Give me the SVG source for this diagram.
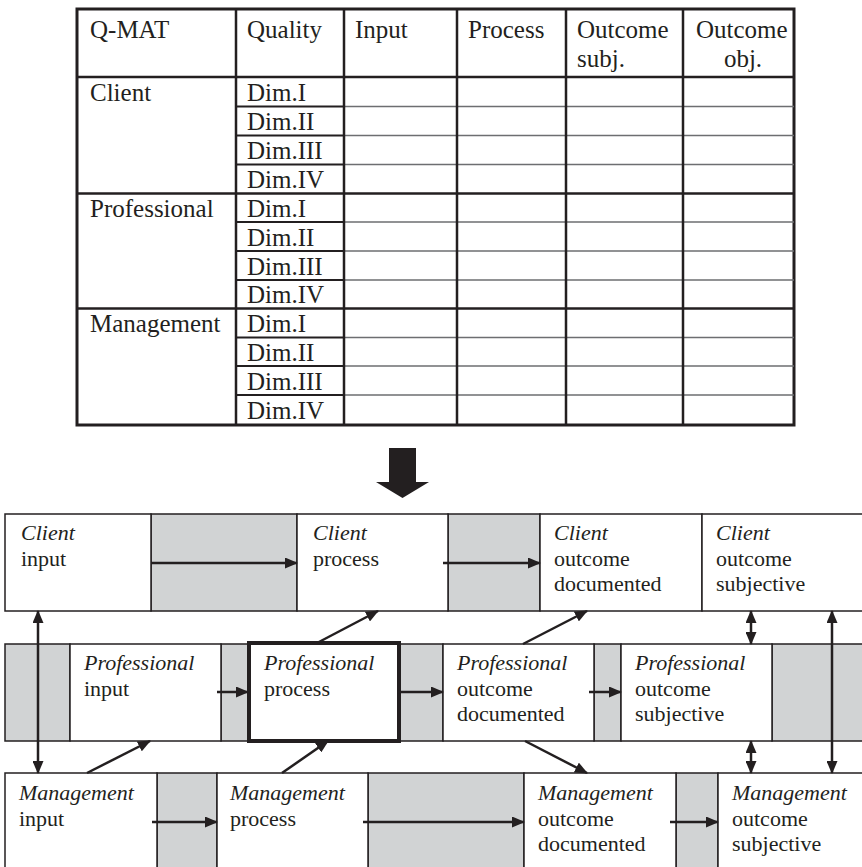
<svg xmlns="http://www.w3.org/2000/svg" width="862" height="867" viewBox="0 0 862 867">
  <style>
    .txt { font-family: "Liberation Serif", "Times New Roman", serif; fill: #231f20; }
    .tbl { font-size: 25px; }
    .lbl { font-size: 22px; }
    .it { font-style: italic; }
    .frame { fill: none; stroke: #231f20; stroke-width: 3; }
    .col { stroke: #231f20; stroke-width: 2.5; }
    .sec { stroke: #231f20; stroke-width: 2.5; }
    .dimln { stroke: #231f20; stroke-width: 2.2; }
    .row { stroke: #6d6e71; stroke-width: 1.5; }
    .box { fill: #ffffff; stroke: #231f20; stroke-width: 1.5; }
    .gap { fill: #d1d3d4; stroke: #231f20; stroke-width: 1.5; }
    .focus { fill: #ffffff; stroke: #231f20; stroke-width: 4; }
    .conn { stroke: #231f20; stroke-width: 2.5; fill: none; }
  </style>
  <defs>
    <marker id="head" markerUnits="userSpaceOnUse" markerWidth="13" markerHeight="11" refX="12" refY="5.5" orient="auto-start-reverse">
      <path d="M0,0 L13,5.5 L0,11 z" fill="#231f20"/>
    </marker>
  </defs>

  <!-- Q-MAT matrix -->
  <g id="qmat-table">
    <rect class="frame" x="77" y="9" width="717" height="416"/>
    <!-- thin row rules in the data columns -->
    <g class="row">
      <line x1="344" y1="106.5" x2="794" y2="106.5"/>
      <line x1="344" y1="135.5" x2="794" y2="135.5"/>
      <line x1="344" y1="164.5" x2="794" y2="164.5"/>
      <line x1="344" y1="222" x2="794" y2="222"/>
      <line x1="344" y1="251" x2="794" y2="251"/>
      <line x1="344" y1="280" x2="794" y2="280"/>
      <line x1="344" y1="337.5" x2="794" y2="337.5"/>
      <line x1="344" y1="366" x2="794" y2="366"/>
      <line x1="344" y1="395" x2="794" y2="395"/>
    </g>
    <!-- dimension cells -->
    <g class="dimln">
      <line x1="236" y1="106.5" x2="344" y2="106.5"/>
      <line x1="236" y1="135.5" x2="344" y2="135.5"/>
      <line x1="236" y1="164.5" x2="344" y2="164.5"/>
      <line x1="236" y1="222" x2="344" y2="222"/>
      <line x1="236" y1="251" x2="344" y2="251"/>
      <line x1="236" y1="280" x2="344" y2="280"/>
      <line x1="236" y1="337.5" x2="344" y2="337.5"/>
      <line x1="236" y1="366" x2="344" y2="366"/>
      <line x1="236" y1="395" x2="344" y2="395"/>
    </g>
    <!-- header and section rules -->
    <g class="sec">
      <line x1="77" y1="77" x2="794" y2="77"/>
      <line x1="77" y1="193.5" x2="794" y2="193.5"/>
      <line x1="77" y1="308.5" x2="794" y2="308.5"/>
    </g>
    <!-- column rules -->
    <g class="col">
      <line x1="236" y1="9" x2="236" y2="425"/>
      <line x1="344" y1="9" x2="344" y2="425"/>
      <line x1="457" y1="9" x2="457" y2="425"/>
      <line x1="566" y1="9" x2="566" y2="425"/>
      <line x1="683" y1="9" x2="683" y2="425"/>
    </g>
    <g class="txt tbl">
      <text x="90" y="38">Q-MAT</text>
      <text x="247" y="38">Quality</text>
      <text x="355" y="38">Input</text>
      <text x="468" y="38">Process</text>
      <text x="577" y="38">Outcome</text>
      <text x="577" y="67">subj.</text>
      <text x="696" y="38">Outcome</text>
      <text x="743" y="67" text-anchor="middle">obj.</text>

      <text x="90" y="101">Client</text>
      <text x="90" y="216.5">Professional</text>
      <text x="90" y="332">Management</text>

      <text x="247" y="101">Dim.I</text>
      <text x="247" y="130">Dim.II</text>
      <text x="247" y="159">Dim.III</text>
      <text x="247" y="188">Dim.IV</text>
      <text x="247" y="216.5">Dim.I</text>
      <text x="247" y="245.5">Dim.II</text>
      <text x="247" y="274.5">Dim.III</text>
      <text x="247" y="303">Dim.IV</text>
      <text x="247" y="332">Dim.I</text>
      <text x="247" y="361">Dim.II</text>
      <text x="247" y="390">Dim.III</text>
      <text x="247" y="419">Dim.IV</text>
    </g>
  </g>

  <!-- transition arrow -->
  <g id="down-arrow">
    <polygon points="389,448 416,448 416,482 429,482 402.5,498 376,482 389,482" fill="#231f20"/>
  </g>

  <!-- client level -->
  <rect class="gap" x="151" y="514" width="146" height="97"/>
  <rect class="gap" x="448" y="514" width="92" height="97"/>
  <g id="client-input">
    <rect class="box" x="5" y="514" width="146" height="97"/>
    <text class="txt lbl" x="21" y="540"><tspan class="it">Client</tspan><tspan x="21" dy="25.5">input</tspan></text>
  </g>
  <g id="client-process">
    <rect class="box" x="297" y="514" width="151" height="97"/>
    <text class="txt lbl" x="313" y="540"><tspan class="it">Client</tspan><tspan x="313" dy="25.5">process</tspan></text>
  </g>
  <g id="client-outcome-documented">
    <rect class="box" x="540" y="514" width="162" height="97"/>
    <text class="txt lbl" x="554" y="540"><tspan class="it">Client</tspan><tspan x="554" dy="25.5">outcome</tspan><tspan x="554" dy="25.5">documented</tspan></text>
  </g>
  <g id="client-outcome-subjective">
    <rect class="box" x="702" y="514" width="164" height="97"/>
    <text class="txt lbl" x="716" y="540"><tspan class="it">Client</tspan><tspan x="716" dy="25.5">outcome</tspan><tspan x="716" dy="25.5">subjective</tspan></text>
  </g>

  <!-- professional level -->
  <rect class="gap" x="5" y="644" width="65" height="97"/>
  <rect class="gap" x="221" y="644" width="27" height="97"/>
  <rect class="gap" x="400" y="644" width="43" height="97"/>
  <rect class="gap" x="594" y="644" width="27" height="97"/>
  <rect class="gap" x="772" y="644" width="94" height="97"/>
  <g id="professional-input">
    <rect class="box" x="70" y="644" width="151" height="97"/>
    <text class="txt lbl" x="84" y="670"><tspan class="it">Professional</tspan><tspan x="84" dy="25.5">input</tspan></text>
  </g>
  <g id="professional-process">
    <rect class="focus" x="249" y="643" width="150" height="98"/>
    <text class="txt lbl" x="264" y="670"><tspan class="it">Professional</tspan><tspan x="264" dy="25.5">process</tspan></text>
  </g>
  <g id="professional-outcome-documented">
    <rect class="box" x="443" y="644" width="151" height="97"/>
    <text class="txt lbl" x="457" y="670"><tspan class="it">Professional</tspan><tspan x="457" dy="25.5">outcome</tspan><tspan x="457" dy="25.5">documented</tspan></text>
  </g>
  <g id="professional-outcome-subjective">
    <rect class="box" x="621" y="644" width="151" height="97"/>
    <text class="txt lbl" x="635" y="670"><tspan class="it">Professional</tspan><tspan x="635" dy="25.5">outcome</tspan><tspan x="635" dy="25.5">subjective</tspan></text>
  </g>

  <!-- management level -->
  <rect class="gap" x="157" y="773" width="60" height="100"/>
  <rect class="gap" x="368" y="773" width="156" height="100"/>
  <rect class="gap" x="676" y="773" width="42" height="100"/>
  <g id="management-input">
    <rect class="box" x="5" y="773" width="152" height="100"/>
    <text class="txt lbl" x="19" y="800"><tspan class="it">Management</tspan><tspan x="19" dy="25.5">input</tspan></text>
  </g>
  <g id="management-process">
    <rect class="box" x="217" y="773" width="151" height="100"/>
    <text class="txt lbl" x="230" y="800"><tspan class="it">Management</tspan><tspan x="230" dy="25.5">process</tspan></text>
  </g>
  <g id="management-outcome-documented">
    <rect class="box" x="524" y="773" width="152" height="100"/>
    <text class="txt lbl" x="538" y="800"><tspan class="it">Management</tspan><tspan x="538" dy="25.5">outcome</tspan><tspan x="538" dy="25.5">documented</tspan></text>
  </g>
  <g id="management-outcome-subjective">
    <rect class="box" x="718" y="773" width="148" height="100"/>
    <text class="txt lbl" x="732" y="800"><tspan class="it">Management</tspan><tspan x="732" dy="25.5">outcome</tspan><tspan x="732" dy="25.5">subjective</tspan></text>
  </g>

  <!-- connectors -->
  <g id="connectors" class="conn">
    <!-- within levels -->
    <line x1="151" y1="563" x2="297" y2="563" marker-end="url(#head)"/>
    <line x1="443" y1="563" x2="540" y2="563" marker-end="url(#head)"/>
    <line x1="217" y1="692" x2="248" y2="692" marker-end="url(#head)"/>
    <line x1="397" y1="692" x2="443" y2="692" marker-end="url(#head)"/>
    <line x1="589" y1="692" x2="621" y2="692" marker-end="url(#head)"/>
    <line x1="152" y1="822" x2="217" y2="822" marker-end="url(#head)"/>
    <line x1="363" y1="822" x2="524" y2="822" marker-end="url(#head)"/>
    <line x1="670" y1="822" x2="718" y2="822" marker-end="url(#head)"/>
    <!-- between levels -->
    <line x1="38" y1="611" x2="38" y2="773" marker-start="url(#head)" marker-end="url(#head)"/>
    <line x1="87" y1="773" x2="150" y2="741" marker-end="url(#head)"/>
    <line x1="282" y1="773" x2="328" y2="741" marker-end="url(#head)"/>
    <line x1="317" y1="643" x2="378" y2="611" marker-end="url(#head)"/>
    <line x1="523" y1="644" x2="587" y2="611" marker-end="url(#head)"/>
    <line x1="525" y1="741" x2="587" y2="773" marker-end="url(#head)"/>
    <line x1="751" y1="611" x2="751" y2="644" marker-start="url(#head)" marker-end="url(#head)"/>
    <line x1="751" y1="741" x2="751" y2="773" marker-start="url(#head)" marker-end="url(#head)"/>
    <line x1="832" y1="611" x2="832" y2="773" marker-start="url(#head)" marker-end="url(#head)"/>
  </g>
</svg>
